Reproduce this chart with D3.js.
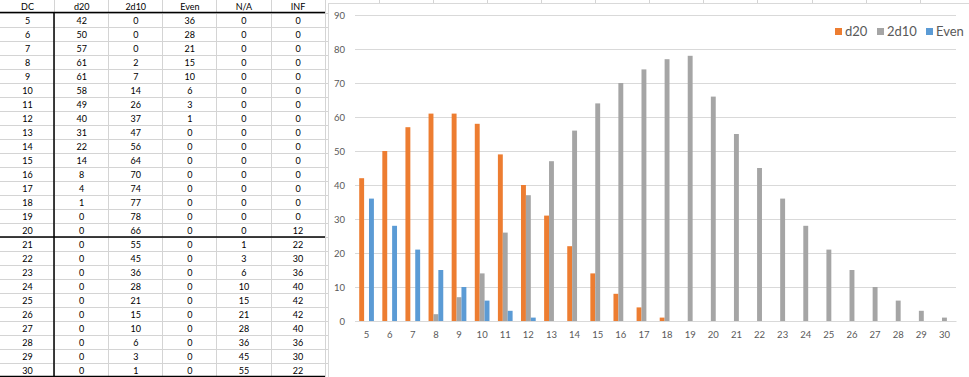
<!DOCTYPE html>
<html lang="en">
<head>
<meta charset="utf-8">
<title>DC chart</title>
<script src="https://d3js.org/d3.v7.min.js"></script>
<style>
  body { margin: 0; background: #fff; }
  svg text { font-family: Lato, "Open Sans", sans-serif; }
</style>
</head>
<body>
<script>
// table + chart values
const headers = ["DC", "d20", "2d10", "Even", "N/A", "INF"];
const dc     = [5,6,7,8,9,10,11,12,13,14,15,16,17,18,19,20,21,22,23,24,25,26,27,28,29,30];
const d20    = [42,50,57,61,61,58,49,40,31,22,14,8,4,1,0,0,0,0,0,0,0,0,0,0,0,0];
const twoD10 = [0,0,0,2,7,14,26,37,47,56,64,70,74,77,78,66,55,45,36,28,21,15,10,6,3,1];
const even   = [36,28,21,15,10,6,3,1,0,0,0,0,0,0,0,0,0,0,0,0,0,0,0,0,0,0];
const na     = [0,0,0,0,0,0,0,0,0,0,0,0,0,0,0,0,1,3,6,10,15,21,28,36,45,55];
const inf    = [0,0,0,0,0,0,0,0,0,0,0,0,0,0,0,12,22,30,36,40,42,42,40,36,30,22];
const yTicks = [0,10,20,30,40,50,60,70,80,90];

const series = [
  {name: "d20",  values: d20,    color: "#ED7D31"},
  {name: "2d10", values: twoD10, color: "#A5A5A5"},
  {name: "Even", values: even,   color: "#5B9BD5"}
];

const W = 969, H = 377;
const svg = d3.select("body").append("svg")
    .attr("width", W).attr("height", H);

// ---------- spreadsheet table ----------
const colW = 54.1, rowH = 14, tableTop = 13;
const tableCols = [dc, d20, twoD10, even, na, inf];
const grid = svg.append("g");

// faint sheet column lines (also peeking above the chart)
d3.range(1, 18).forEach(i => {
  const x = Math.round(i * colW) + 0.5;
  grid.append("line")
      .attr("x1", x).attr("x2", x)
      .attr("y1", 0).attr("y2", x < 326 ? H : 3)
      .attr("stroke", "#d4d4d4");
});
// row lines
d3.range(0, 27).forEach(i => {
  const y = tableTop + i * rowH + 0.5;
  grid.append("line")
      .attr("x1", 0).attr("x2", 328)
      .attr("y1", y).attr("y2", y)
      .attr("stroke", "#d4d4d4");
});
// thick borders
grid.append("line").attr("x1", 0).attr("x2", 325).attr("y1", 12.5).attr("y2", 12.5)
    .attr("stroke", "#000").attr("stroke-width", 1.5);
grid.append("line").attr("x1", 0).attr("x2", 325).attr("y1", tableTop + 16 * rowH).attr("y2", tableTop + 16 * rowH)
    .attr("stroke", "#000").attr("stroke-width", 1.5);
grid.append("line").attr("x1", 0).attr("x2", 325).attr("y1", 376.5).attr("y2", 376.5)
    .attr("stroke", "#000").attr("stroke-width", 1.5);
grid.append("line").attr("x1", 54).attr("x2", 54).attr("y1", 12).attr("y2", H)
    .attr("stroke", "#000").attr("stroke-width", 1.5);

const colCenter = i => i * colW + colW / 2 + 0.5;

svg.append("g").selectAll("text")
  .data(headers)
  .join("text")
    .attr("x", (d, i) => colCenter(i))
    .attr("y", 10)
    .attr("text-anchor", "middle")
    .attr("font-size", 9)
    .attr("fill", "#000")
    .text(d => d);

tableCols.forEach((col, c) => {
  svg.append("g").selectAll("text")
    .data(col)
    .join("text")
      .attr("x", colCenter(c))
      .attr("y", (d, r) => tableTop + r * rowH + 11)
      .attr("text-anchor", "middle")
      .attr("font-size", 9)
      .attr("fill", "#000")
      .text(d => d);
});

// ---------- chart ----------
svg.append("rect")
    .attr("x", 328.5).attr("y", 3.5)
    .attr("width", 700).attr("height", 400)
    .attr("fill", "#fff").attr("stroke", "#d9d9d9");

const plotL = 355, plotR = 956;
const y = d3.scaleLinear().domain([0, 90]).range([321, 15]);
const x0 = d3.scaleBand().domain(dc).range([plotL, plotR])
    .paddingInner(0.364).paddingOuter(0.182);
const x1 = d3.scaleBand().domain(series.map(s => s.name)).range([0, x0.bandwidth()]);

// gridlines + y labels
const yAxis = d3.axisLeft(y).tickValues(yTicks).tickSize(-(plotR - plotL)).tickPadding(10);
const gy = svg.append("g")
    .attr("transform", `translate(${plotL},0)`)
    .call(yAxis);
gy.select(".domain").remove();
gy.selectAll(".tick line").attr("stroke", "#d9d9d9");
gy.selectAll(".tick text")
    .attr("fill", "#595959")
    .attr("font-size", 9.5)
    .attr("font-family", "Lato, 'Open Sans', sans-serif");

// bars
svg.append("g").selectAll("g")
  .data(series)
  .join("g")
    .attr("fill", s => s.color)
  .selectAll("rect")
  .data(s => s.values.map((v, i) => ({name: s.name, dc: dc[i], v})))
  .join("rect")
    .attr("x", d => x0(d.dc) + x1(d.name))
    .attr("y", d => y(d.v))
    .attr("width", x1.bandwidth())
    .attr("height", d => y(0) - y(d.v));

// x axis
const xAxis = d3.axisBottom(x0).tickSize(0).tickPadding(10);
const gx = svg.append("g")
    .attr("transform", `translate(0,${y(0)})`)
    .call(xAxis);
gx.select(".domain").attr("stroke", "#d9d9d9");
gx.selectAll(".tick text")
    .attr("fill", "#595959")
    .attr("font-size", 9.5)
    .attr("font-family", "Lato, 'Open Sans', sans-serif");

// legend
const legendX = [835, 877, 926];
const legend = svg.append("g").selectAll("g")
  .data(series)
  .join("g")
    .attr("transform", (d, i) => `translate(${legendX[i]},28)`);
legend.append("rect")
    .attr("width", 7).attr("height", 7)
    .attr("fill", d => d.color);
legend.append("text")
    .attr("x", 10).attr("y", 8)
    .attr("font-size", 13)
    .attr("fill", "#595959")
    .text(d => d.name);
</script>
</body>
</html>
